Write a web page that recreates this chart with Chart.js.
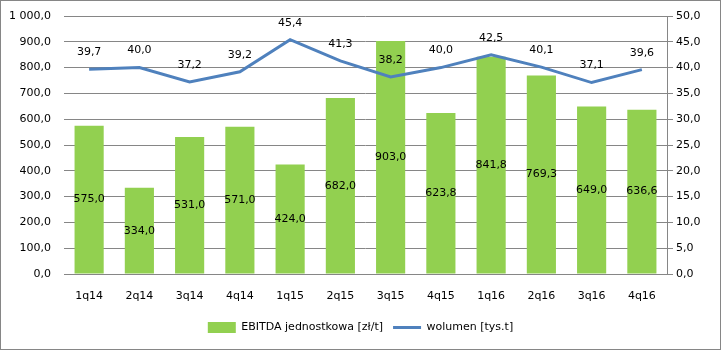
<!DOCTYPE html>
<html lang="pl">
<head>
<meta charset="UTF-8">
<title>EBITDA i wolumen</title>
<script src="https://cdn.jsdelivr.net/npm/chart.js"></script>
<style>
    html, body { margin: 0; padding: 0; background: #fff; }
    #wrap {
        width: 719px;
        height: 348px;
        border: 1px solid #868686;
    }
</style>
</head>
<body>
<div id="wrap"><canvas id="chart" width="719" height="348"></canvas></div>
<script>
    const quarters = ["1q14", "2q14", "3q14", "4q14", "1q15", "2q15", "3q15", "4q15", "1q16", "2q16", "3q16", "4q16"];
    const ebitda = [575.0, 334.0, 531.0, 571.0, 424.0, 682.0, 903.0, 623.8, 841.8, 769.3, 649.0, 636.6];
    const volume = [39.7, 40.0, 37.2, 39.2, 45.4, 41.3, 38.2, 40.0, 42.5, 40.1, 37.1, 39.6];

    const fmt = v => {
        const s = v.toFixed(1).replace(".", ",");
        const [i, d] = s.split(",");
        return i.replace(/\B(?=(\d{3})+(?!\d))/g, " ") + "," + d;
    };

    const FONT = "DejaVu Sans";

    // value labels: bars in the middle, line above the point
    const valueLabels = {
        id: "valueLabels",
        afterDatasetsDraw(chart) {
            const ctx = chart.ctx;
            ctx.save();
            ctx.font = "11px '" + FONT + "'";
            ctx.fillStyle = "#000";
            ctx.textAlign = "center";
            ctx.textBaseline = "middle";
            chart.getDatasetMeta(0).data.forEach((bar, i) => {
                ctx.fillText(fmt(ebitda[i]), bar.x, (bar.y + bar.base) / 2);
            });
            chart.getDatasetMeta(1).data.forEach((pt, i) => {
                ctx.fillText(fmt(volume[i]), pt.x, pt.y - 17);
            });
            ctx.restore();
        }
    };

    // keep the y scales from pushing the plot area down
    const noPad = (scale, w) => {
        scale.width = w;
        scale.paddingTop = 0;
        scale.paddingBottom = 0;
    };

    new Chart(document.getElementById("chart"), {
        data: {
            labels: quarters,
            datasets: [
                {
                    type: "bar",
                    label: "EBITDA jednostkowa [zł/t]",
                    data: ebitda,
                    backgroundColor: "#92D050",
                    yAxisID: "y",
                    barPercentage: 1,
                    categoryPercentage: 0.58,
                    order: 2,
                    pointStyle: "rect"
                },
                {
                    type: "line",
                    label: "wolumen [tys.t]",
                    data: volume,
                    borderColor: "#4F81BD",
                    backgroundColor: "#4F81BD",
                    borderWidth: 3,
                    pointRadius: 0,
                    tension: 0,
                    yAxisID: "y1",
                    order: 1,
                    pointStyle: "line"
                }
            ]
        },
        options: {
            responsive: false,
            animation: false,
            layout: { padding: { top: 15, left: 0, right: 0, bottom: 6 } },
            plugins: {
                tooltip: { enabled: false },
                legend: {
                    position: "bottom",
                    labels: {
                        usePointStyle: true,
                        pointStyleWidth: 28,
                        boxHeight: 11,
                        padding: 10,
                        color: "#000",
                        font: { family: FONT, size: 11 },
                        sort: (a, b) => a.datasetIndex - b.datasetIndex
                    }
                }
            },
            scales: {
                x: {
                    grid: { display: false },
                    border: { display: true, color: "#868686" },
                    ticks: { color: "#000", font: { family: FONT, size: 11 }, padding: 8 },
                    afterFit(scale) { scale.height = 38; }
                },
                y: {
                    position: "left",
                    min: 0,
                    max: 1000,
                    ticks: {
                        stepSize: 100,
                        color: "#000",
                        padding: 13,
                        font: { family: FONT, size: 11 },
                        callback: v => fmt(v)
                    },
                    grid: { color: "#868686", drawTicks: false },
                    border: { display: false },
                    afterFit(scale) { noPad(scale, 63); }
                },
                y1: {
                    position: "right",
                    min: 0,
                    max: 50,
                    ticks: {
                        stepSize: 5,
                        color: "#000",
                        padding: 3,
                        font: { family: FONT, size: 11 },
                        callback: v => fmt(v)
                    },
                    grid: { drawOnChartArea: false, drawTicks: true, tickLength: 6, color: "#868686" },
                    border: { display: true, color: "#868686" },
                    afterFit(scale) { noPad(scale, 53); }
                }
            }
        },
        plugins: [valueLabels]
    });
</script>
</body>
</html>
